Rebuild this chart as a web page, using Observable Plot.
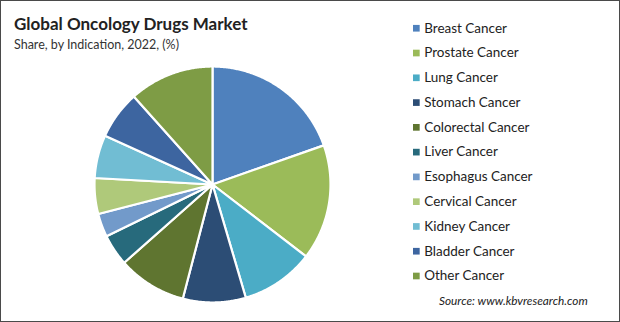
<!DOCTYPE html>
<html>
<head>
<meta charset="utf-8">
<script src="https://cdn.jsdelivr.net/npm/d3@7"></script>
<script src="https://cdn.jsdelivr.net/npm/@observablehq/plot@0.6"></script>
<style>
  html, body { margin: 0; padding: 0; background: #fff; }
  #chart { position: relative; width: 620px; height: 322px; box-sizing: border-box; border: 1px solid #4a4a4a; background: #fff; overflow: hidden; font-family: Lato, "Noto Sans", sans-serif; color: #222; }
  #title { position: absolute; left: 13px; top: 12px; font-size: 17px; font-weight: bold; color: #222; white-space: nowrap; }
  #subtitle { position: absolute; left: 13px; top: 36px; font-size: 12.5px; color: #333; white-space: nowrap; }
  #source { position: absolute; left: 438px; top: 292px; font-size: 11.8px; font-style: italic; color: #222; white-space: nowrap; }
  #pie { position: absolute; left: 91px; top: 63px; }
  #legend { position: absolute; left: 397px; top: 0px; }
</style>
</head>
<body>
<div id="chart">
  <div id="title">Global Oncology Drugs Market</div>
  <div id="subtitle">Share, by Indication, 2022, (%)</div>
  <div id="pie"></div>
  <div id="legend"></div>
  <div id="source">Source: www.kbvresearch.com</div>
</div>
<script>
const categories = ["Breast Cancer", "Prostate Cancer", "Lung Cancer", "Stomach Cancer", "Colorectal Cancer", "Liver Cancer", "Esophagus Cancer", "Cervical Cancer", "Kidney Cancer", "Bladder Cancer", "Other Cancer"];
const shares = [19.6, 15.8, 10.0, 8.6, 9.4, 4.3, 3.2, 4.9, 5.9, 6.6, 11.6];
const colors = ["#4F81BD", "#9BBB59", "#4BACC6", "#2C4D75", "#5F7530", "#276A7C", "#729ACA", "#AFC97A", "#71BDD3", "#3D65A0", "#7E9C45"];

// Build slice outlines from the shares (clockwise from 12 o'clock)
const arcs = d3.pie().sort(null).value(d => d.share)(categories.map((c, i) => ({name: c, share: shares[i]})));
const pts = [];
for (const a of arcs) {
  const name = a.data.name;
  pts.push({name, x: 0, y: 0});
  const steps = Math.max(2, Math.ceil((a.endAngle - a.startAngle) / (Math.PI / 360)));
  for (let k = 0; k <= steps; k++) {
    const t = a.startAngle + (a.endAngle - a.startAngle) * k / steps;
    pts.push({name, x: Math.sin(t), y: Math.cos(t)});
  }
}

const pie = Plot.plot({
  width: 240, height: 240,
  margin: 0,
  x: {domain: [-1, 1], range: [2, 238], axis: null},
  y: {domain: [-1, 1], range: [238, 2], axis: null},
  color: {domain: categories, range: colors},
  marks: [
    Plot.line(pts, {x: "x", y: "y", z: "name", fill: "name", stroke: "white", strokeWidth: 2.2, strokeLinejoin: "round", curve: "linear-closed"})
  ]
});
document.getElementById("pie").append(pie);

const legend = Plot.plot({
  width: 223, height: 300,
  margin: 0,
  y: {type: "point", domain: categories, range: [25.5, 277.5], padding: 0, axis: null},
  color: {domain: categories, range: colors},
  style: {fontFamily: "Lato, 'Noto Sans', sans-serif"},
  marks: [
    Plot.dot(categories, {y: d => d, fill: d => d, symbol: "square", r: 3.8, frameAnchor: "left", dx: 18}),
    Plot.text(categories, {y: d => d, text: d => d, frameAnchor: "left", dx: 26, textAnchor: "start", fontSize: 13.6, fill: "#222"})
  ]
});
document.getElementById("legend").append(legend);
</script>
</body>
</html>
